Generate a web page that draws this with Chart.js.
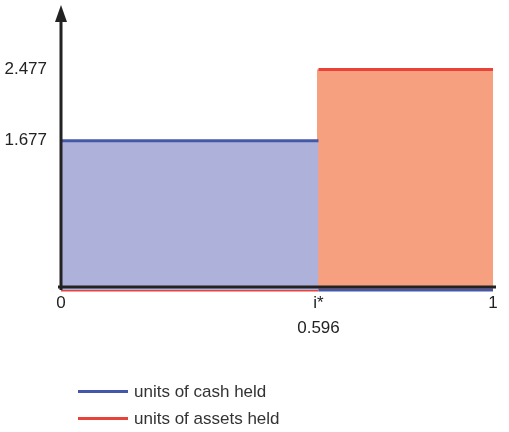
<!DOCTYPE html>
<html>
<head>
<meta charset="utf-8">
<script src="https://cdn.jsdelivr.net/npm/chart.js@4/dist/chart.umd.min.js"></script>
<style>
  html, body { margin: 0; padding: 0; background: #fff; }
  #wrap { position: relative; width: 509px; height: 432px; }
  #legend { position: absolute; left: 78px; top: 378px; font-family: "Liberation Sans", Arial, sans-serif; font-size: 17px; color: #333; }
  .item { height: 27px; display: flex; align-items: center; }
  .swatch { display: inline-block; width: 50px; height: 3px; margin-right: 6px; }
</style>
</head>
<body>
<div id="wrap">
  <canvas id="chart" width="509" height="432"></canvas>
  <div id="legend"></div>
</div>
<script>
// threshold i* and holdings on each side
const xTicks = [0, 0.596, 1];
const xTickLabels = ['0', ['i*', '0.596'], '1'];
const yTicks = [1.677, 2.477];
const seriesNames = ['units of cash held', 'units of assets held'];
const cashHeld = [[0, 1.677], [0.596, 1.677], [0.596, 0], [1, 0]];
const assetsHeld = [[0, 0], [0.596, 0], [0.596, 2.477], [1, 2.477]];

const lineColors = ['#4457a8', '#e8423a'];
const fillColors = ['#aeb2da', '#f7a07f'];

function toPoints(arr) {
    return arr.map(p => ({ x: p[0], y: p[1] }));
}

// vertical jump at i* gets no visible border
function jumpColor(i) {
    return ctx => ctx.p0.parsed.x === ctx.p1.parsed.x
        ? (i === 0 ? 'rgba(0,0,0,0)' : fillColors[1])
        : lineColors[i];
}

// black axes with arrow, drawn over the data
const axesPlugin = {
    id: 'axes',
    afterDatasetsDraw(chart) {
        const ctx = chart.ctx;
        const a = chart.chartArea;
        const y0 = chart.scales.y.getPixelForValue(0);
        ctx.save();
        ctx.strokeStyle = '#222';
        ctx.fillStyle = '#222';
        ctx.lineWidth = 3;
        ctx.beginPath();
        ctx.moveTo(a.left - 3, y0 - 3);
        ctx.lineTo(a.right + 3, y0 - 3);
        ctx.stroke();
        ctx.beginPath();
        ctx.moveTo(a.left, y0);
        ctx.lineTo(a.left, a.top + 12);
        ctx.stroke();
        ctx.beginPath();
        ctx.moveTo(a.left, a.top);
        ctx.lineTo(a.left - 6, a.top + 17);
        ctx.lineTo(a.left + 6, a.top + 17);
        ctx.closePath();
        ctx.fill();
        ctx.restore();
    }
};

const datasets = [cashHeld, assetsHeld].map((arr, i) => ({
    label: seriesNames[i],
    data: toPoints(arr),
    borderColor: lineColors[i],
    backgroundColor: fillColors[i],
    borderWidth: 3,
    pointRadius: 0,
    fill: 'origin',
    clip: 6,
    segment: { borderColor: jumpColor(i) }
}));

const tickFont = { family: '"Liberation Sans", Arial, sans-serif', size: 17, lineHeight: 1.45 };

const chart = new Chart(document.getElementById('chart'), {
    type: 'line',
    data: { datasets: datasets },
    options: {
        responsive: false,
        animation: false,
        layout: { padding: { top: 5, right: 16, left: 0, bottom: 0 } },
        plugins: { legend: { display: false }, tooltip: { enabled: false } },
        scales: {
            x: {
                type: 'linear',
                min: 0,
                max: 1,
                grid: { display: false },
                border: { display: false },
                afterBuildTicks: s => { s.ticks = xTicks.map(v => ({ value: v })); },
                afterFit: s => { s.height = 142; s.paddingRight = 0; },
                ticks: {
                    autoSkip: false,
                    maxRotation: 0,
                    padding: -7,
                    color: '#222',
                    font: tickFont,
                    callback: (v, i) => xTickLabels[i]
                }
            },
            y: {
                type: 'linear',
                min: 0,
                max: 3.2,
                grid: { display: false },
                border: { display: false },
                afterBuildTicks: s => { s.ticks = yTicks.map(v => ({ value: v })); },
                afterFit: s => { s.width = 61; s.paddingTop = 0; s.paddingBottom = 0; },
                ticks: {
                    padding: 6,
                    color: '#222',
                    font: tickFont,
                    callback: v => v.toFixed(3)
                }
            }
        }
    },
    plugins: [axesPlugin]
});

const legend = document.getElementById('legend');
seriesNames.forEach((name, i) => {
    const row = document.createElement('div');
    row.className = 'item';
    row.innerHTML = `<span class="swatch" style="background:${lineColors[i]}"></span><span>${name}</span>`;
    legend.appendChild(row);
});
</script>
</body>
</html>
